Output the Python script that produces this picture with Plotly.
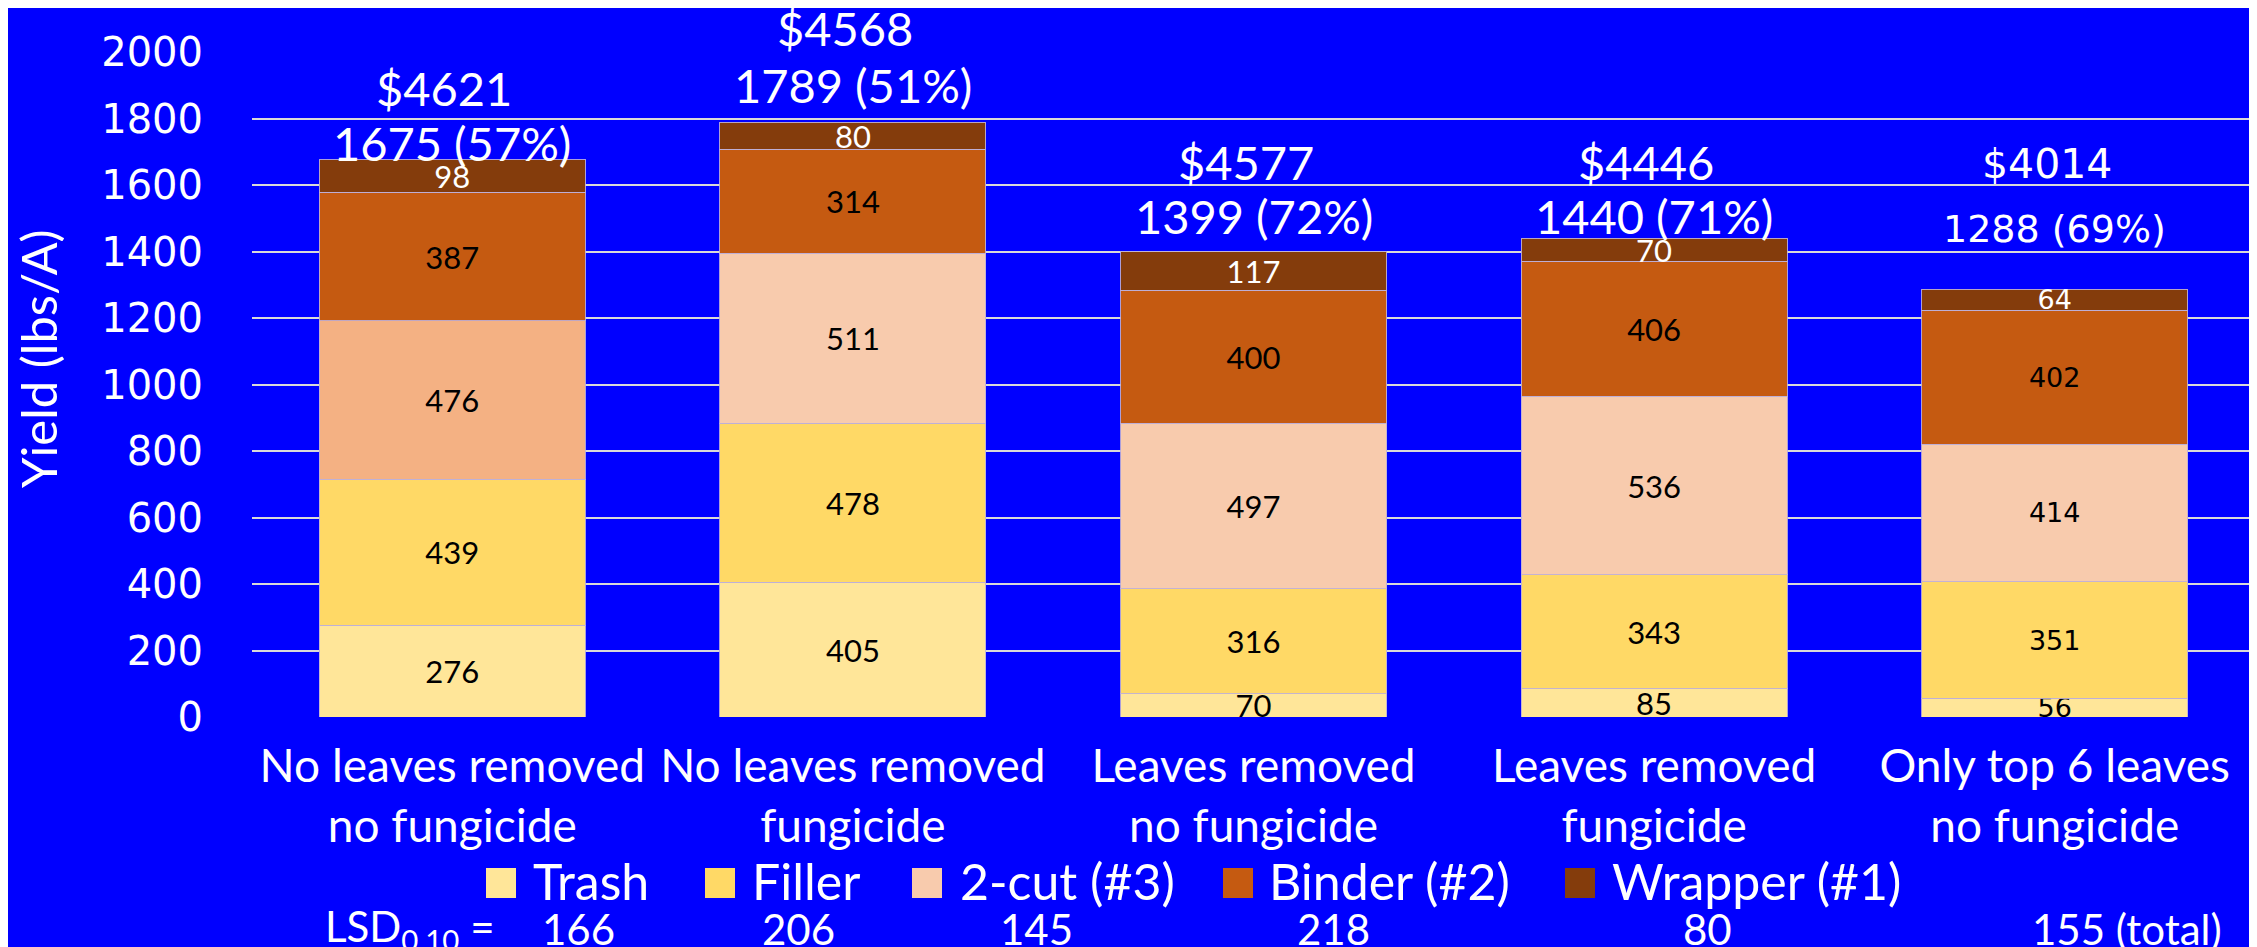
import plotly.graph_objects as go

# ---------------- data ----------------
categories = ["No leaves removed<br>no fungicide", "No leaves removed<br>fungicide",
              "Leaves removed<br>no fungicide", "Leaves removed<br>fungicide",
              "Only top 6 leaves<br>no fungicide"]
series_names = ["Trash", "Filler", "2-cut (#3)", "Binder (#2)", "Wrapper (#1)"]
trash = [276, 405, 70, 85, 56]
filler = [439, 478, 316, 343, 351]
twocut = [476, 511, 497, 536, 414]
binder = [387, 314, 400, 406, 402]
wrapper = [98, 80, 117, 70, 64]
total_yield = [1675, 1789, 1399, 1440, 1288]
total_pct = [57, 51, 72, 71, 69]
dollar_value = [4621, 4568, 4577, 4446, 4014]
y_title = "Yield (lbs/A)"
lsd_label = "LSD<sub>0.10</sub> ="
lsd_values = ["166", "206", "145", "218", "80", "155 (total)"]
y_ticks = [0, 200, 400, 600, 800, 1000, 1200, 1400, 1600, 1800, 2000]

# ---------------- style ----------------
BG = "#0000FF"
CAL = "Lato, Carlito, sans-serif"
VER = "'DejaVu Sans', Verdana, sans-serif"
colors = {
    "Trash": ["#FFE699"] * 5,
    "Filler": ["#FFD966"] * 5,
    "2-cut (#3)": ["#F4B183", "#F8CBAD", "#F8CBAD", "#F8CBAD", "#F8CBAD"],
    "Binder (#2)": ["#C55A11"] * 5,
    "Wrapper (#1)": ["#843C0C"] * 5,
}
legend_colors = ["#FFE699", "#FFD966", "#F8CBAD", "#C55A11", "#843C0C"]
label_colors = {"Trash": "black", "Filler": "black", "2-cut (#3)": "black",
                "Binder (#2)": "black", "Wrapper (#1)": "white"}
bar_fonts = [CAL, CAL, CAL, CAL, VER]
bar_font_sizes = [31, 31, 31, 31, 27]
# pixel offsets (center of text above bar top) for annotation lines
total_shift = [17, 37, 36, 22, 60]
dollar_shift = [72, 94, 90, 76, 125]
ann_fonts = [CAL, CAL, CAL, CAL, VER]
total_sizes = [47, 47, 47, 47, 38]
dollar_sizes = [47, 47, 47, 47, 41]

values = {"Trash": trash, "Filler": filler, "2-cut (#3)": twocut,
          "Binder (#2)": binder, "Wrapper (#1)": wrapper}

# page geometry (body margin of 8px is compensated)
OFF = 8
W, H = 2257 - OFF, 947 - OFF
L, R, T, B = 252 - OFF, 2, 52 - OFF, 230
pw, ph = W - L - R, H - T - B


def px_to_paper_x(px):
    return (px - OFF - L) / pw


def py_to_paper_y(py):
    return (H - B - (py - OFF)) / ph


fig = go.Figure()
for name in series_names:
    vals = values[name]
    fig.add_trace(go.Bar(
        name=name, x=categories, y=vals, showlegend=False,
        marker=dict(color=colors[name], line=dict(color="rgba(190,175,215,0.9)", width=1)),
        text=[str(v) for v in vals], textposition="inside", insidetextanchor="middle",
        constraintext="none", cliponaxis=False, textangle=0,
        textfont=dict(family=bar_fonts, size=bar_font_sizes,
                      color=[label_colors[name]] * 5),
    ))

stack_tops = [sum(values[n][i] for n in series_names) for i in range(len(categories))]
for i, cat in enumerate(categories):
    fig.add_annotation(x=cat, y=stack_tops[i], xref="x", yref="y",
                       text=f"{total_yield[i]} ({total_pct[i]}%)", showarrow=False,
                       yshift=total_shift[i], yanchor="middle",
                       font=dict(family=ann_fonts[i], size=total_sizes[i], color="white"))
    fig.add_annotation(x=cat, y=stack_tops[i], xref="x", yref="y",
                       text=f"${dollar_value[i]}", showarrow=False,
                       yshift=dollar_shift[i], yanchor="middle", xshift=-8,
                       font=dict(family=ann_fonts[i], size=dollar_sizes[i], color="white"))

# y-axis title
fig.add_annotation(x=px_to_paper_x(38), y=py_to_paper_y(359), xref="paper", yref="paper",
                   text=y_title, textangle=-90, showarrow=False,
                   xanchor="center", yanchor="middle",
                   font=dict(family=CAL, size=49, color="white"))

# legend (drawn as swatches + labels to match the large square keys)
legend_sq_x = [486, 705, 912, 1223, 1565]
legend_tx_x = [531, 750, 958, 1267, 1610]
legend_y = 883
for name, col, sx, tx in zip(series_names, legend_colors, legend_sq_x, legend_tx_x):
    fig.add_shape(type="rect", xref="paper", yref="paper",
                  x0=px_to_paper_x(sx), x1=px_to_paper_x(sx + 30),
                  y0=py_to_paper_y(legend_y + 15), y1=py_to_paper_y(legend_y - 15),
                  fillcolor=col, line=dict(width=0), layer="above")
    fig.add_annotation(x=px_to_paper_x(tx), y=py_to_paper_y(legend_y - 2), xref="paper", yref="paper",
                       text=name, showarrow=False, xanchor="left", yanchor="middle",
                       font=dict(family=CAL, size=50, color="white"))

# LSD row
lsd_row_y = py_to_paper_y(929)
fig.add_annotation(x=px_to_paper_x(323), y=lsd_row_y, xref="paper", yref="paper",
                   text=lsd_label, showarrow=False, xanchor="left", yanchor="middle",
                   font=dict(family=CAL, size=42, color="white"))
lsd_x = [578, 798, 1036, 1333, 1707, 2127]
for v, px in zip(lsd_values, lsd_x):
    fig.add_annotation(x=px_to_paper_x(px), y=lsd_row_y, xref="paper", yref="paper",
                       text=v, showarrow=False, xanchor="center", yanchor="middle",
                       font=dict(family=CAL, size=42, color="white"))

fig.update_layout(
    width=W, height=H,
    barmode="stack", bargap=0.336,
    paper_bgcolor=BG, plot_bgcolor=BG,
    margin=dict(l=L, r=R, t=T, b=B, autoexpand=False),
    showlegend=False,
    yaxis=dict(range=[0, 2000], tickvals=y_ticks, showgrid=True, gridcolor="#D9D9D9",
               gridwidth=2, zeroline=False, showline=False,
               tickfont=dict(family=VER, size=40, color="white"), ticklabelstandoff=48),
    xaxis=dict(showgrid=False, showline=False, zeroline=False, ticklabelstandoff=18,
               tickangle=0, tickfont=dict(family=CAL, size=46, color="white")),
    font=dict(color="white"),
)

fig.write_html("out.html")
